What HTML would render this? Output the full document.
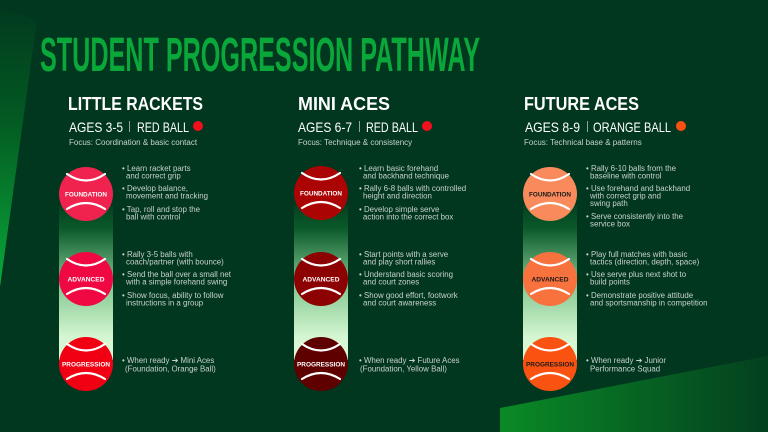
<!DOCTYPE html>
<html><head><meta charset="utf-8"><style>
html,body{margin:0;padding:0;background:#01361f;}
svg{display:block;font-family:"Liberation Sans",sans-serif;}
</style></head><body>
<svg width="768" height="432" viewBox="0 0 768 432" xmlns="http://www.w3.org/2000/svg">
<defs>
<linearGradient id="lw" x1="0" y1="0" x2="0" y2="1"><stop offset="0" stop-color="#013a1f"/><stop offset="0.4" stop-color="#035a22"/><stop offset="1" stop-color="#0aa83a"/></linearGradient>
<linearGradient id="bw" x1="0" y1="0" x2="1" y2="0"><stop offset="0" stop-color="#0a8a26"/><stop offset="1" stop-color="#03401f"/></linearGradient>
<linearGradient id="bar" x1="0" y1="0" x2="0" y2="1"><stop offset="0" stop-color="#02401f"/><stop offset="0.15" stop-color="#0b5a2a"/><stop offset="0.5" stop-color="#7ec48e"/><stop offset="0.85" stop-color="#d4f6d0"/><stop offset="1" stop-color="#dcf9d6"/></linearGradient>
<g id="seam" fill="none" stroke="#fff" stroke-width="2.2" stroke-linecap="round">
<path d="M-19,-20 Q0,-7 19,-20"/><path d="M-19,15 Q0,3 19,15"/>
</g>
</defs>
<rect width="768" height="432" fill="#01361f"/>
<polygon points="0,8 37,20 0,287" fill="url(#lw)"/>
<polygon points="500,408 768,356 768,432 500,432" fill="url(#bw)"/>
<text x="40" y="71" font-size="48" font-weight="bold" fill="#0aa83a" textLength="440" lengthAdjust="spacingAndGlyphs">STUDENT PROGRESSION PATHWAY</text>

<!-- Column 1 -->
<g>
<text x="68" y="110" font-size="18" font-weight="bold" fill="#fff" textLength="135" lengthAdjust="spacingAndGlyphs">LITTLE RACKETS</text>
<text x="69" y="132" font-size="14" fill="#fff" textLength="54" lengthAdjust="spacingAndGlyphs">AGES 3-5</text>
<rect x="129" y="121" width="0.8" height="11" fill="#bbb"/>
<text x="137" y="132" font-size="14" fill="#fff" textLength="52" lengthAdjust="spacingAndGlyphs">RED BALL</text>
<circle cx="198" cy="126" r="5" fill="#f0101e"/>
<text x="69" y="145" font-size="8" fill="#c9d3cc">Focus: Coordination &amp; basic contact</text>
<rect x="59" y="205" width="54" height="155" fill="url(#bar)"/>
<g transform="translate(86,194)"><circle r="27" fill="#f0234f"/><use href="#seam"/><text y="2.5" font-size="6.3" font-weight="bold" fill="#fff" text-anchor="middle" textLength="42" lengthAdjust="spacingAndGlyphs">FOUNDATION</text></g>
<g transform="translate(86,279)"><circle r="27" fill="#f00843"/><use href="#seam"/><text y="2.5" font-size="6.3" font-weight="bold" fill="#fff" text-anchor="middle" textLength="37" lengthAdjust="spacingAndGlyphs">ADVANCED</text></g>
<g transform="translate(86,364)"><circle r="27" fill="#f00012"/><use href="#seam"/><text y="2.5" font-size="6.3" font-weight="bold" fill="#fff" text-anchor="middle" textLength="48" lengthAdjust="spacingAndGlyphs">PROGRESSION</text></g>
<g font-size="7.9" fill="#c9d3cc">
<text x="122" y="171">• Learn racket parts</text><text x="126" y="178.5">and correct grip</text>
<text x="122" y="191">• Develop balance,</text><text x="126" y="198.5">movement and tracking</text>
<text x="122" y="212">• Tap, roll and stop the</text><text x="126" y="219.5">ball with control</text>
<text x="122" y="257">• Rally 3-5 balls with</text><text x="126" y="264.5">coach/partner (with bounce)</text>
<text x="122" y="277">• Send the ball over a small net</text><text x="126" y="284.5">with a simple forehand swing</text>
<text x="122" y="298">• Show focus, ability to follow</text><text x="126" y="305.5">instructions in a group</text>
<text x="122" y="363">• When ready ➔  Mini Aces</text><text x="125" y="371.5">(Foundation, Orange Ball)</text>
</g>
</g>

<!-- Column 2 -->
<g>
<text x="298" y="110" font-size="18" font-weight="bold" fill="#fff" textLength="92" lengthAdjust="spacingAndGlyphs">MINI ACES</text>
<text x="298" y="132" font-size="14" fill="#fff" textLength="54" lengthAdjust="spacingAndGlyphs">AGES 6-7</text>
<rect x="359" y="121" width="0.8" height="11" fill="#bbb"/>
<text x="366" y="132" font-size="14" fill="#fff" textLength="52" lengthAdjust="spacingAndGlyphs">RED BALL</text>
<circle cx="427" cy="126" r="5" fill="#f0101e"/>
<text x="298" y="145" font-size="8" fill="#c9d3cc">Focus: Technique &amp; consistency</text>
<rect x="294" y="205" width="54" height="155" fill="url(#bar)"/>
<g transform="translate(321,193)"><circle r="27" fill="#aa0404"/><use href="#seam"/><text y="2.5" font-size="6.3" font-weight="bold" fill="#fff" text-anchor="middle" textLength="42" lengthAdjust="spacingAndGlyphs">FOUNDATION</text></g>
<g transform="translate(321,279)"><circle r="27" fill="#8c0202"/><use href="#seam"/><text y="2.5" font-size="6.3" font-weight="bold" fill="#fff" text-anchor="middle" textLength="37" lengthAdjust="spacingAndGlyphs">ADVANCED</text></g>
<g transform="translate(321,364)"><circle r="27" fill="#5e0000"/><use href="#seam"/><text y="2.5" font-size="6.3" font-weight="bold" fill="#fff" text-anchor="middle" textLength="48" lengthAdjust="spacingAndGlyphs">PROGRESSION</text></g>
<g font-size="7.9" fill="#c9d3cc">
<text x="359" y="171">• Learn basic forehand</text><text x="363" y="178.5">and backhand technique</text>
<text x="359" y="191">• Rally 6-8 balls with controlled</text><text x="363" y="198.5">height and direction</text>
<text x="359" y="212">• Develop simple serve</text><text x="363" y="219.5">action into the correct box</text>
<text x="359" y="257">• Start points with a serve</text><text x="363" y="264.5">and play short rallies</text>
<text x="359" y="277">• Understand basic scoring</text><text x="363" y="284.5">and court zones</text>
<text x="359" y="298">• Show good effort, footwork</text><text x="363" y="305.5">and court awareness</text>
<text x="359" y="363">• When ready ➔  Future Aces</text><text x="360" y="371.5">(Foundation, Yellow Ball)</text>
</g>
</g>

<!-- Column 3 -->
<g>
<text x="524" y="110" font-size="18" font-weight="bold" fill="#fff" textLength="115" lengthAdjust="spacingAndGlyphs">FUTURE ACES</text>
<text x="525" y="132" font-size="14" fill="#fff" textLength="55" lengthAdjust="spacingAndGlyphs">AGES 8-9</text>
<rect x="587" y="121" width="0.8" height="11" fill="#bbb"/>
<text x="593" y="132" font-size="14" fill="#fff" textLength="78" lengthAdjust="spacingAndGlyphs">ORANGE BALL</text>
<circle cx="681" cy="126" r="5" fill="#f85010"/>
<text x="524" y="145" font-size="8" fill="#c9d3cc">Focus: Technical base &amp; patterns</text>
<rect x="523" y="205" width="54" height="155" fill="url(#bar)"/>
<g transform="translate(550,194)"><circle r="27" fill="#f88a5c"/><use href="#seam"/><text y="2.5" font-size="6.3" font-weight="bold" fill="#1a1a1a" text-anchor="middle" textLength="42" lengthAdjust="spacingAndGlyphs">FOUNDATION</text></g>
<g transform="translate(550,279)"><circle r="27" fill="#f8723e"/><use href="#seam"/><text y="2.5" font-size="6.3" font-weight="bold" fill="#1a1a1a" text-anchor="middle" textLength="37" lengthAdjust="spacingAndGlyphs">ADVANCED</text></g>
<g transform="translate(550,364)"><circle r="27" fill="#fa5210"/><use href="#seam"/><text y="2.5" font-size="6.3" font-weight="bold" fill="#1a1a1a" text-anchor="middle" textLength="48" lengthAdjust="spacingAndGlyphs">PROGRESSION</text></g>
<g font-size="7.9" fill="#c9d3cc">
<text x="586" y="171">• Rally 6-10 balls from the</text><text x="590" y="178.5">baseline with control</text>
<text x="586" y="191">• Use forehand and backhand</text><text x="590" y="198.5">with correct grip and</text><text x="590" y="206">swing path</text>
<text x="586" y="219">• Serve consistently into the</text><text x="590" y="226.5">service box</text>
<text x="586" y="257">• Play full matches with basic</text><text x="590" y="264.5">tactics (direction, depth, space)</text>
<text x="586" y="277">• Use serve plus next shot to</text><text x="590" y="284.5">build points</text>
<text x="586" y="298">• Demonstrate positive attitude</text><text x="590" y="305.5">and sportsmanship in competition</text>
<text x="586" y="363">• When ready ➔  Junior</text><text x="590" y="371.5">Performance Squad</text>
</g>
</g>
</svg>
</body></html>
